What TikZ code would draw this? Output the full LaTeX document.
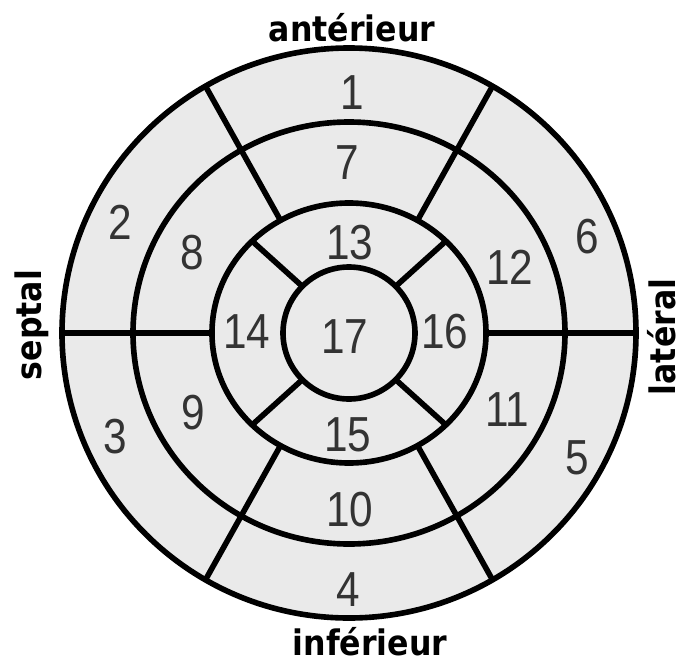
\documentclass[tikz,border=0pt]{standalone}
\usepackage{fontspec}
\newfontfamily\segfont[FakeStretch=0.86]{Liberation Sans}
\newfontfamily\sidefont[FakeStretch=0.9]{DejaVu Sans}
\definecolor{segfill}{HTML}{EAEAEA}
\definecolor{segtext}{HTML}{333333}
\tikzset{
  segnum/.style={font=\segfont\fontsize{28}{28}\selectfont, text=segtext, inner sep=0pt},
  sidelabel/.style={font=\sidefont\bfseries\fontsize{20}{20}\selectfont, inner sep=0pt, anchor=base},
  ringline/.style={line width=3.2pt}
}

\begin{document}
\begin{tikzpicture}[scale=0.02]
\useasboundingbox[fill=white] (-349,-332) rectangle (332,333);
\fill[segfill] (0,0) ellipse[x radius=287, y radius=285];
% radial borders
\foreach \a in {0,60,...,300}
  \draw[ringline] (\a:137 and 130) -- (\a:287 and 285);
\foreach \a in {45,135,225,315}
  \draw[ringline] (\a:66) -- (\a:137 and 130);
% rings
\draw[ringline] (0,0) ellipse[x radius=287, y radius=285];
\draw[ringline] (0,0) ellipse[x radius=216, y radius=211];
\draw[ringline] (0,0) ellipse[x radius=137, y radius=130];
\draw[ringline] (0,0) circle[radius=66];
% segment numbers
\foreach \n/\x/\y in {1/3/240, 2/-229/111, 3/-234/-104, 4/-1/-257, 5/228/-125, 6/238/96,
    7/-2/170, 8/-157/80, 9/-156/-80, 10/1/-177, 11/158/-77, 12/161/66,
    13/1/90, 14/-102/1, 15/-1/-102, 16/96/1, 17/-4/-4}
  \node[segnum] (seg\n) at (\x,\y) {\n};
% walls
\node[sidelabel] (ant) at (3,291) {antérieur};
\node[sidelabel] (inf) at (21,-322) {inférieur};
\node[sidelabel, rotate=90] (sep) at (-307,8) {septal};
\node[sidelabel, rotate=90] (lat) at (326,-4) {latéral};
\end{tikzpicture}
\end{document}
